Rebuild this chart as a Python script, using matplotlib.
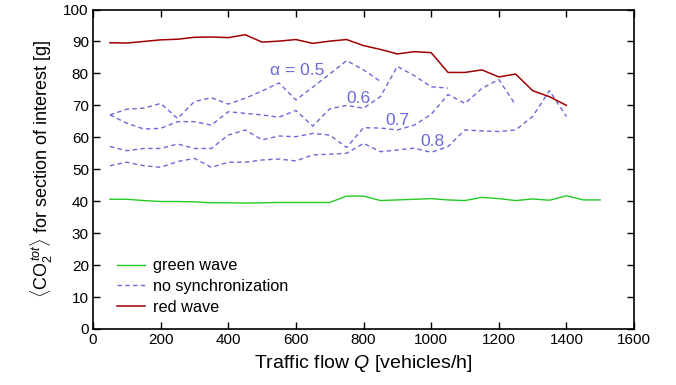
import matplotlib
matplotlib.use("Agg")
import matplotlib.pyplot as plt
import numpy as np

plt.rcParams['font.family'] = ['Liberation Sans', 'DejaVu Sans']
plt.rcParams['mathtext.fontset'] = 'custom'
plt.rcParams['mathtext.rm'] = 'Liberation Sans'
plt.rcParams['mathtext.it'] = 'Liberation Sans:italic'
plt.rcParams['mathtext.sf'] = 'Liberation Sans'

# ---- data ----
q_green = list(range(50, 1501, 50))
green_wave = [40.6, 40.6, 40.2, 39.9, 39.9, 39.8, 39.5, 39.5, 39.4, 39.5,
              39.6, 39.6, 39.6, 39.6, 41.6, 41.6, 40.2, 40.4, 40.6, 40.8,
              40.4, 40.2, 41.2, 40.8, 40.2, 40.7, 40.3, 41.7, 40.4, 40.4]

q_red = list(range(50, 1401, 50))
red_wave = [89.6, 89.5, 90.0, 90.5, 90.7, 91.3, 91.4, 91.2, 92.1, 89.8,
            90.1, 90.6, 89.4, 90.1, 90.6, 88.7, 87.5, 86.1, 86.8, 86.5,
            80.3, 80.3, 81.1, 78.9, 79.8, 74.6, 72.7, 70.0]

q_a05 = list(range(50, 851, 50))
nosync_a05 = [67.0, 68.8, 69.1, 70.6, 65.9, 71.2, 72.4, 70.4, 72.2, 74.5,
              77.0, 71.7, 75.7, 79.8, 84.0, 81.1, 77.5]

q_a06 = list(range(50, 1051, 50))
nosync_a06 = [67.0, 64.4, 62.6, 62.8, 64.9, 64.9, 63.8, 68.0, 67.5, 67.0,
              66.3, 68.4, 63.5, 68.9, 70.0, 69.1, 72.7, 82.2, 79.3, 75.8, 75.4]

q_a07 = list(range(50, 1251, 50))
nosync_a07 = [57.1, 55.8, 56.5, 56.5, 57.9, 56.5, 56.5, 60.7, 62.3, 59.2,
              60.4, 60.2, 61.2, 60.7, 56.8, 63.0, 62.9, 62.3, 63.8, 67.2,
              73.4, 70.6, 75.3, 78.1, 70.1]

q_a08 = list(range(50, 1401, 50))
nosync_a08 = [51.1, 52.2, 51.1, 50.6, 52.4, 53.4, 50.6, 52.2, 52.2, 52.9,
              53.2, 52.6, 54.5, 54.7, 55.0, 58.1, 55.5, 56.0, 56.6, 55.3,
              57.1, 62.3, 62.0, 61.8, 62.3, 66.5, 74.6, 66.5]

alpha_labels = ["\u03b1 = 0.5", "0.6", "0.7", "0.8"]
alpha_label_pos = [(605, 81), (785, 72.3), (901, 65.4), (1003, 58.6)]

x_ticks = [0, 200, 400, 600, 800, 1000, 1200, 1400, 1600]
y_ticks = [0, 10, 20, 30, 40, 50, 60, 70, 80, 90, 100]

# ---- styles ----
c_green = '#22cc22'
c_red = '#a00000'
c_blue = '#6a6ad6'
dash = (0, (3.2, 2.4))

fig = plt.figure(figsize=(6.76, 3.85), dpi=100)
ax = fig.add_axes([0.1376, 0.1455, 0.8003, 0.8298])

ax.plot(q_green, green_wave, color=c_green, lw=1.0, label='green wave')
first = True
for qq, vv in [(q_a05, nosync_a05), (q_a06, nosync_a06),
               (q_a07, nosync_a07), (q_a08, nosync_a08)]:
    ax.plot(qq, vv, color=c_blue, lw=1.0, linestyle=dash,
            label='no synchronization' if first else None)
    first = False
ax.plot(q_red, red_wave, color=c_red, lw=1.1, label='red wave')

for txt, (xx, yy) in zip(alpha_labels, alpha_label_pos):
    ax.text(xx, yy, txt, color=c_blue, fontsize=12.5, ha='center', va='center')

ax.set_xlim(0, 1600)
ax.set_ylim(0, 100)
ax.set_xticks(x_ticks)
ax.set_yticks(y_ticks)
ax.tick_params(direction='in', top=True, right=True, length=5, width=1,
               labelsize=11, pad=3)
for s in ax.spines.values():
    s.set_linewidth(1.2)

ax.set_xlabel(r'Traffic flow $Q$ [vehicles/h]', fontsize=14, labelpad=4)
ax.set_ylabel(r'$\langle\mathrm{CO}_2^{\,tot}\rangle$ for section of interest [g]',
              fontsize=13, labelpad=6)

leg = ax.legend(loc='lower left', bbox_to_anchor=(0.044, 0.045), frameon=False,
                fontsize=11.7, handlelength=1.75, handletextpad=0.5,
                labelspacing=0.35, borderpad=0, borderaxespad=0)

fig.savefig('out.png', dpi=100)
